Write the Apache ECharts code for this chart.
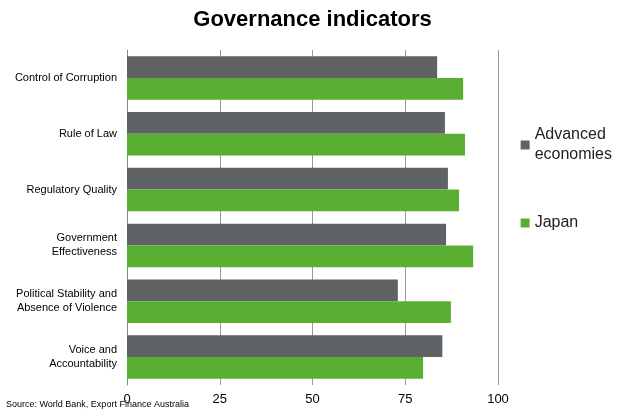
<!DOCTYPE html>
<html><head><meta charset="utf-8">
<script src="https://cdn.jsdelivr.net/npm/echarts@6/dist/echarts.min.js"></script>
<style>html,body{margin:0;padding:0;background:#fff}#c{width:625px;height:414px}</style>
</head><body><div id="c"></div>
<script>
const categories = ["Control of Corruption","Rule of Law","Regulatory Quality","Government\nEffectiveness","Political Stability and\nAbsence of Violence","Voice and\nAccountability"];
const advanced = [83.6, 85.7, 86.5, 86.0, 73.0, 85.0];
const japan = [90.6, 91.1, 89.5, 93.3, 87.3, 79.8];
const xTicks = [0, 25, 50, 75, 100];
const chart = echarts.init(document.getElementById('c'));
chart.setOption({
  animation:false,
  textStyle:{fontFamily:'Arial, Liberation Sans'},
  title:{text:'Governance indicators',left:'center',top:4,textStyle:{fontSize:22,fontWeight:'bold',color:'#000'}},
  grid:{left:127,right:127,top:50,bottom:29},
  legend:{orient:'vertical',right:8,top:120,itemGap:48,itemWidth:9,itemHeight:9,icon:'rect',
    data:[{name:'Advanced\neconomies'},{name:'Japan'}],textStyle:{fontSize:16,color:'#222',lineHeight:20}},
  xAxis:{type:'value',min:0,max:100,interval:25,
    axisLine:{show:false},axisTick:{show:false},
    axisLabel:{fontSize:13,color:'#000',formatter:v=>xTicks.includes(v)?String(v):''},
    splitLine:{show:true,lineStyle:{color:'#999'},showMinLine:false}},
  yAxis:{type:'category',inverse:true,data:categories,
    axisLine:{show:true,lineStyle:{color:'#888'}},axisTick:{show:false},
    axisLabel:{fontSize:11,color:'#000',lineHeight:14,margin:10}},
  series:[
    {name:'Advanced\neconomies',type:'bar',data:advanced,itemStyle:{color:'#5f6366'},barGap:'0%',barCategoryGap:'22%'},
    {name:'Japan',type:'bar',data:japan,itemStyle:{color:'#5aaf32'}}
  ],
  graphic:[{type:'text',left:6,bottom:5,style:{text:'Source: World Bank, Export Finance Australia',fontSize:9,fill:'#000'}}]
});
</script></body></html>
